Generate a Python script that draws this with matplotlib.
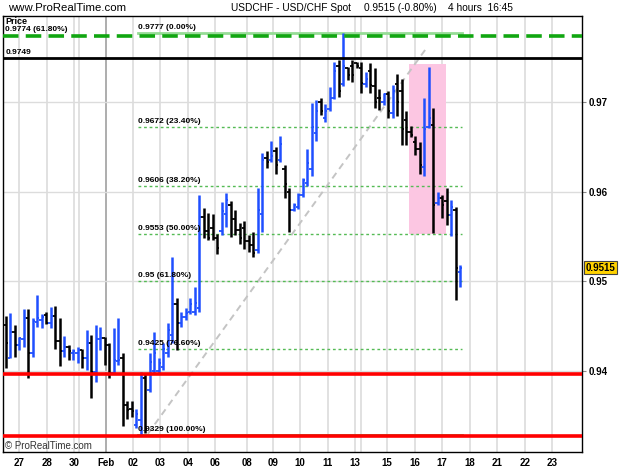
import matplotlib
matplotlib.use("Agg")
import matplotlib.pyplot as plt
import matplotlib.transforms as mtransforms
from matplotlib.patches import Rectangle

plt.rcParams['font.family'] = ['Liberation Sans', 'DejaVu Sans']

# ---------------- data (4-hour OHLC bars, USD/CHF) ----------------
opens = [0.9451, 0.9415, 0.9443, 0.9429, 0.9436, 0.9459, 0.9420, 0.9455, 0.9457, 0.9462,
         0.9453, 0.9461, 0.9434, 0.9422, 0.9427, 0.9420, 0.9420, 0.9423, 0.9415, 0.9431,
         0.9399, 0.9436, 0.9437, 0.9429, 0.9398, 0.9411, 0.9415, 0.9362, 0.9358, 0.9340,
         0.9345, 0.9392, 0.9379, 0.9400, 0.9400, 0.9405, 0.9420, 0.9440, 0.9475, 0.9453,
         0.9460, 0.9466, 0.9466, 0.9470, 0.9572, 0.9556, 0.9560, 0.9548, 0.9556, 0.9575,
         0.9585, 0.9570, 0.9557, 0.9560, 0.9545, 0.9540, 0.9535, 0.9575, 0.9638, 0.9635,
         0.9645, 0.9635, 0.9625, 0.9600, 0.9580, 0.9583, 0.9596, 0.9610, 0.9625, 0.9665,
         0.9700, 0.9682, 0.9692, 0.9705, 0.9740, 0.9720, 0.9738, 0.9740, 0.9744, 0.9738,
         0.9720, 0.9735, 0.9718, 0.9705, 0.9700, 0.9709, 0.9688, 0.9720, 0.9712, 0.9680,
         0.9667, 0.9655, 0.9648, 0.9628, 0.9672, 0.9674, 0.9587, 0.9593, 0.9590, 0.9574,
         0.9580, 0.9510]
highs = [0.9461, 0.9465, 0.9451, 0.9438, 0.9469, 0.9469, 0.9459, 0.9485, 0.9464, 0.9466,
         0.9471, 0.9473, 0.9459, 0.9439, 0.9429, 0.9425, 0.9427, 0.9424, 0.9446, 0.9440,
         0.9451, 0.9449, 0.9438, 0.9431, 0.9448, 0.9459, 0.9420, 0.9366, 0.9366, 0.9358,
         0.9399, 0.9398, 0.9420, 0.9444, 0.9414, 0.9431, 0.9453, 0.9527, 0.9481, 0.9466,
         0.9470, 0.9481, 0.9494, 0.9596, 0.9582, 0.9576, 0.9575, 0.9553, 0.9588, 0.9598,
         0.9590, 0.9580, 0.9565, 0.9567, 0.9552, 0.9555, 0.9604, 0.9643, 0.9645, 0.9656,
         0.9650, 0.9662, 0.9630, 0.9604, 0.9587, 0.9598, 0.9615, 0.9648, 0.9699, 0.9702,
         0.9704, 0.9698, 0.9717, 0.9745, 0.9747, 0.9777, 0.9739, 0.9747, 0.9745, 0.9745,
         0.9734, 0.9743, 0.9738, 0.9715, 0.9710, 0.9712, 0.9719, 0.9731, 0.9726, 0.9690,
         0.9673, 0.9662, 0.9655, 0.9704, 0.9739, 0.9693, 0.9600, 0.9596, 0.9604, 0.9591,
         0.9583, 0.9518]
lows = [0.9403, 0.9414, 0.9416, 0.9423, 0.9427, 0.9392, 0.9416, 0.9449, 0.9448, 0.9452,
        0.9448, 0.9425, 0.9406, 0.9416, 0.9412, 0.9412, 0.9409, 0.9403, 0.9401, 0.9370,
        0.9388, 0.9423, 0.9407, 0.9392, 0.9397, 0.9407, 0.9339, 0.9347, 0.9349, 0.9336,
        0.9329, 0.9331, 0.9377, 0.9397, 0.9397, 0.9401, 0.9416, 0.9431, 0.9423, 0.9449,
        0.9457, 0.9464, 0.9462, 0.9466, 0.9548, 0.9546, 0.9546, 0.9530, 0.9552, 0.9561,
        0.9550, 0.9552, 0.9542, 0.9536, 0.9533, 0.9527, 0.9532, 0.9555, 0.9626, 0.9633,
        0.9620, 0.9633, 0.9593, 0.9555, 0.9578, 0.9581, 0.9594, 0.9606, 0.9617, 0.9656,
        0.9686, 0.9678, 0.9690, 0.9703, 0.9706, 0.9718, 0.9724, 0.9722, 0.9738, 0.9710,
        0.9717, 0.9710, 0.9693, 0.9691, 0.9697, 0.9682, 0.9682, 0.9684, 0.9652, 0.9652,
        0.9661, 0.9641, 0.9620, 0.9618, 0.9671, 0.9554, 0.9585, 0.9571, 0.9563, 0.9551,
        0.9479, 0.9494]
closes = [0.9431, 0.9443, 0.9429, 0.9437, 0.9459, 0.9420, 0.9456, 0.9459, 0.9460, 0.9453,
          0.9461, 0.9434, 0.9422, 0.9427, 0.9422, 0.9422, 0.9423, 0.9415, 0.9431, 0.9399,
          0.9436, 0.9437, 0.9429, 0.9398, 0.9412, 0.9412, 0.9362, 0.9356, 0.9355, 0.9352,
          0.9392, 0.9335, 0.9410, 0.9420, 0.9409, 0.9425, 0.9446, 0.9475, 0.9453, 0.9460,
          0.9465, 0.9475, 0.9476, 0.9572, 0.9556, 0.9548, 0.9548, 0.9537, 0.9578, 0.9591,
          0.9570, 0.9557, 0.9548, 0.9545, 0.9540, 0.9532, 0.9580, 0.9635, 0.9633, 0.9640,
          0.9630, 0.9653, 0.9609, 0.9580, 0.9585, 0.9596, 0.9613, 0.9632, 0.9672, 0.9690,
          0.9690, 0.9690, 0.9704, 0.9735, 0.9712, 0.9740, 0.9730, 0.9730, 0.9740, 0.9721,
          0.9726, 0.9719, 0.9700, 0.9704, 0.9709, 0.9690, 0.9712, 0.9700, 0.9670, 0.9667,
          0.9663, 0.9648, 0.9630, 0.9670, 0.9682, 0.9585, 0.9593, 0.9585, 0.9574, 0.9583,
          0.9515, 0.9515]

date_labels = ["27", "28", "30", "Feb", "02", "03", "04", "06", "08", "09",
               "10", "11", "13", "15", "16", "17", "18", "21", "22", "23"]
date_pos = [3.0, 9.2, 15.2, 22.3, 28.3, 34.3, 40.5, 46.5, 53.6, 59.5,
            65.4, 71.6, 77.6, 84.7, 91.0, 96.9, 103.2, 109.2, 115.4, 121.4]
extra_grid_pos = [16.3, 78.9]

fib_values = [0.9777, 0.9672, 0.9606, 0.9553, 0.95, 0.9425, 0.9329]
fib_texts = ["0.9777 (0.00%)", "0.9672 (23.40%)", "0.9606 (38.20%)", "0.9553 (50.00%)",
             "0.95 (61.80%)", "0.9425 (76.60%)", "0.9329 (100.00%)"]
fib_start, fib_end = 29.4, 101.4

resistance = 0.9749
dashed_level = 0.9774
support_levels = [0.9397, 0.9327]
last_price = 0.9515
trend_x = [31.6, 93.2]
trend_y = [0.9330, 0.9758]
box_x = [89.6, 97.8]
box_y = [0.9553, 0.9742]
yticks = [0.94, 0.95, 0.96, 0.97]

# ---------------- figure ----------------
W, H = 625, 469
fig = plt.figure(figsize=(W / 100, H / 100), dpi=100)
fig.patch.set_facecolor('white')
left, right, top, bottom = 3, 582, 16, 452
ax = fig.add_axes([left / W, (H - bottom) / H, (right - left) / W, (bottom - top) / H])
ax.set_xlim(-0.6, 128.07)
ax.set_ylim(0.930967, 0.979591)

# grid
for p in date_pos + extra_grid_pos:
    c = '#a0a0a0' if p == date_pos[3] else '#dcdcdc'
    ax.axvline(p, color=c, lw=1.2, zorder=0)
for y in yticks:
    ax.axhline(y, color='#dcdcdc', lw=1.0, zorder=0)

# highlight rectangle
ax.add_patch(Rectangle((box_x[0], box_y[0]), box_x[1] - box_x[0], box_y[1] - box_y[0],
                       facecolor='#fcc6e2', edgecolor='none', zorder=1))

# trend line
ax.plot(trend_x, trend_y, color='#c4c4c4', lw=1.4, dashes=(3.5, 2.5), zorder=1.5)

# fibonacci lines
blend = mtransforms.blended_transform_factory(ax.transAxes, ax.transData)
for i, (v, t) in enumerate(zip(fib_values, fib_texts)):
    if i == 0:
        ax.plot([fib_start, fib_end], [v, v], color='#96dc96', lw=2.0, zorder=2)
    elif i == len(fib_values) - 1:
        ax.plot([fib_start, fib_end], [v, v], color='#55c855', lw=2.0, zorder=2)
    else:
        ax.plot([fib_start, fib_end], [v, v], color='#55bb55', lw=1.0,
                dashes=(2, 2), zorder=2)
    ax.annotate(t, (fib_start, v), xytext=(0, 1.5), textcoords='offset points',
                fontsize=6, fontweight='bold', va='bottom', ha='left', zorder=6)

# OHLC bars
idx = list(range(len(closes)))
cols = ['#1f4fff' if c >= o else 'black' for o, c in zip(opens, closes)]
ax.vlines(idx, lows, highs, colors=cols, lw=1.8, zorder=3)
ax.hlines(opens, [i - 0.5 for i in idx], idx, colors=cols, lw=1.3, zorder=3)
ax.hlines(closes, idx, [i + 0.5 for i in idx], colors=cols, lw=1.3, zorder=3)

# horizontal levels
ax.axhline(dashed_level, color='#11a611', lw=2.6, dashes=(4.3, 2.0), zorder=4)
ax.axhline(resistance, color='black', lw=2.0, zorder=4)
for s in support_levels:
    ax.axhline(s, color='#ff0000', lw=2.6, zorder=4)

# labels inside plot
ax.text(0.004, 0.997, "Price", transform=ax.transAxes, fontsize=6.5,
        fontweight='bold', va='top', ha='left')
ax.annotate("0.9774 (61.80%)", (0.004, dashed_level), xycoords=blend,
            xytext=(0, 1.8), textcoords='offset points', fontsize=6,
            fontweight='bold', va='bottom', ha='left')
ax.annotate("0.9749", (0.004, resistance), xycoords=blend,
            xytext=(0, 1.8), textcoords='offset points', fontsize=6,
            fontweight='bold', va='bottom', ha='left')
ax.text(0.003, 0.002, "\u00a9 ProRealTime.com", transform=ax.transAxes,
        fontsize=7, color='#333333', va='bottom', ha='left')

# axes styling
ax.yaxis.tick_right()
ax.set_yticks(yticks)
ax.set_yticklabels([f"{v:.2f}" for v in yticks], fontsize=7, fontweight='bold')
ax.tick_params(axis='y', direction='out', length=3, width=0.8, color='#888888', pad=1.5)
ax.set_xticks(date_pos)
ax.set_xticklabels(date_labels, fontsize=7, fontweight='bold')
ax.tick_params(axis='x', length=0, pad=4)
for sp in ax.spines.values():
    sp.set_color('black')
    sp.set_linewidth(1.0)

# last price box
ax.text(1.006, last_price, f"{last_price:.4f}", transform=blend, fontsize=7,
        fontweight='bold', va='center', ha='left', clip_on=False,
        bbox=dict(boxstyle='square,pad=0.15', fc='#ffd200', ec='#444444', lw=0.8))

# header
fig.text(8 / W, 1 - 8 / H, "www.ProRealTime.com", fontsize=8.2, va='center', ha='left')
fig.text(231 / W, 1 - 8 / H, "USDCHF - USD/CHF Spot", fontsize=7.3, va='center', ha='left')
fig.text(364 / W, 1 - 8 / H, "0.9515 (-0.80%)", fontsize=7.3, va='center', ha='left')
fig.text(448 / W, 1 - 8 / H, "4 hours  16:45", fontsize=7.3, va='center', ha='left')

fig.savefig("out.png", dpi=100, facecolor='white')
